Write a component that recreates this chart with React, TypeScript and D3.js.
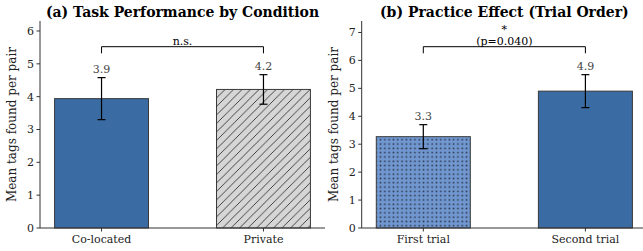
import React from "react";
import * as d3 from "d3";

const leftCategories = ["Co-located", "Private"];
const leftMeans = [3.94, 4.22];
const leftErrors = [0.64, 0.45];
const leftLabels = ["3.9", "4.2"];

const rightCategories = ["First trial", "Second trial"];
const rightMeans = [3.27, 4.9];
const rightErrors = [0.43, 0.59];
const rightLabels = ["3.3", "4.9"];

const yTicksLeft = [0, 1, 2, 3, 4, 5, 6];
const yTicksRight = [0, 1, 2, 3, 4, 5, 6, 7];

const FONT = "'DejaVu Serif', serif";
const BLUE = "#3a6ba3";

type PanelProps = {
  x0: number;
  x1: number;
  title: string;
  categories: string[];
  means: number[];
  errors: number[];
  labels: string[];
  ticks: number[];
  fills: string[];
  sigTop: string[];
};

function Panel(p: PanelProps) {
  const top = 21;
  const bottom = 228;
  const ymax = d3.max(p.means.map((m, i) => m + p.errors[i]))! * 1.35;
  const y = d3.scaleLinear().domain([0, ymax]).range([bottom, top]);
  const x = d3.scaleLinear().domain([-0.38, 1.38]).range([p.x0, p.x1]);
  const bw = 0.58;
  const bracketY = 46.7;
  return (
    <g fontFamily={FONT}>
      <text x={(p.x0 + p.x1) / 2} y={17} textAnchor="middle" fontSize={14} fontWeight="bold" fill="#000">
        {p.title}
      </text>
      {p.means.map((m, i) => (
        <rect
          key={"b" + i}
          x={x(i - bw / 2)}
          y={y(m)}
          width={x(bw) - x(0)}
          height={y(0) - y(m)}
          fill={p.fills[i]}
          stroke="#3a3a3a"
          strokeWidth={1}
        />
      ))}
      {p.means.map((m, i) => {
        const cx = x(i);
        const e = p.errors[i];
        return (
          <g key={"e" + i} stroke="#000" strokeWidth={1.2}>
            <line x1={cx} x2={cx} y1={y(m - e)} y2={y(m + e)} />
            <line x1={cx - 4} x2={cx + 4} y1={y(m - e)} y2={y(m - e)} />
            <line x1={cx - 4} x2={cx + 4} y1={y(m + e)} y2={y(m + e)} />
          </g>
        );
      })}
      {p.means.map((m, i) => (
        <text key={"l" + i} x={x(i)} y={y(m + p.errors[i]) - 5} textAnchor="middle" fontSize={11} fill="#444">
          {p.labels[i]}
        </text>
      ))}
      <path
        d={`M${x(0)},${bracketY + 6.6}V${bracketY}H${x(1)}V${bracketY + 6.6}`}
        fill="none"
        stroke="#000"
        strokeWidth={1}
      />
      {p.sigTop.map((s, i) => (
        <text
          key={"s" + i}
          x={(x(0) + x(1)) / 2}
          y={bracketY - 2 - (p.sigTop.length - 1 - i) * 12}
          textAnchor="middle"
          fontSize={11}
          fill="#000"
        >
          {s}
        </text>
      ))}
      <line x1={p.x0} x2={p.x0} y1={top} y2={bottom} stroke="#333" strokeWidth={1} />
      <line x1={p.x0} x2={p.x1} y1={bottom} y2={bottom} stroke="#333" strokeWidth={1} />
      {p.ticks.map((t) => (
        <g key={"t" + t}>
          <line x1={p.x0 - 3.5} x2={p.x0} y1={y(t)} y2={y(t)} stroke="#333" />
          <text x={p.x0 - 6} y={y(t)} dy="0.35em" textAnchor="end" fontSize={11} fill="#222">
            {t}
          </text>
        </g>
      ))}
      {p.categories.map((c, i) => (
        <g key={"c" + i}>
          <line x1={x(i)} x2={x(i)} y1={bottom} y2={bottom + 3.5} stroke="#333" />
          <text x={x(i)} y={bottom + 15} textAnchor="middle" fontSize={11} fill="#222">
            {c}
          </text>
        </g>
      ))}
      <text
        transform={`translate(${p.x0 - 24},${(top + bottom) / 2}) rotate(-90)`}
        textAnchor="middle"
        fontSize={12}
        fill="#222"
      >
        Mean tags found per pair
      </text>
    </g>
  );
}

export default function App() {
  return (
    <svg width={643} height={251} style={{ position: "absolute", left: 0, top: 0 }}>
      <defs>
        <pattern id="hatch" patternUnits="userSpaceOnUse" width={8.5} height={8.5}>
          <rect width={8.5} height={8.5} fill="#d6d6d6" />
          <path d="M-2,2 L2,-2 M0,8.5 L8.5,0 M6.5,10.5 L10.5,6.5" stroke="#333" strokeWidth={0.9} />
        </pattern>
        <pattern id="dots" patternUnits="userSpaceOnUse" width={4.3} height={4.3}>
          <rect width={4.3} height={4.3} fill="#7097d0" />
          <rect x={1.4} y={1.4} width={1.5} height={1.5} fill="#2a2f40" />
        </pattern>
      </defs>
      <rect width={643} height={251} fill="#fff" />
      <Panel
        x0={40}
        x1={325}
        title="(a) Task Performance by Condition"
        categories={leftCategories}
        means={leftMeans}
        errors={leftErrors}
        labels={leftLabels}
        ticks={yTicksLeft}
        fills={[BLUE, "url(#hatch)"]}
        sigTop={["n.s."]}
      />
      <Panel
        x0={361.7}
        x1={647}
        title="(b) Practice Effect (Trial Order)"
        categories={rightCategories}
        means={rightMeans}
        errors={rightErrors}
        labels={rightLabels}
        ticks={yTicksRight}
        fills={["url(#dots)", BLUE]}
        sigTop={["*", "(p=0.040)"]}
      />
    </svg>
  );
}
